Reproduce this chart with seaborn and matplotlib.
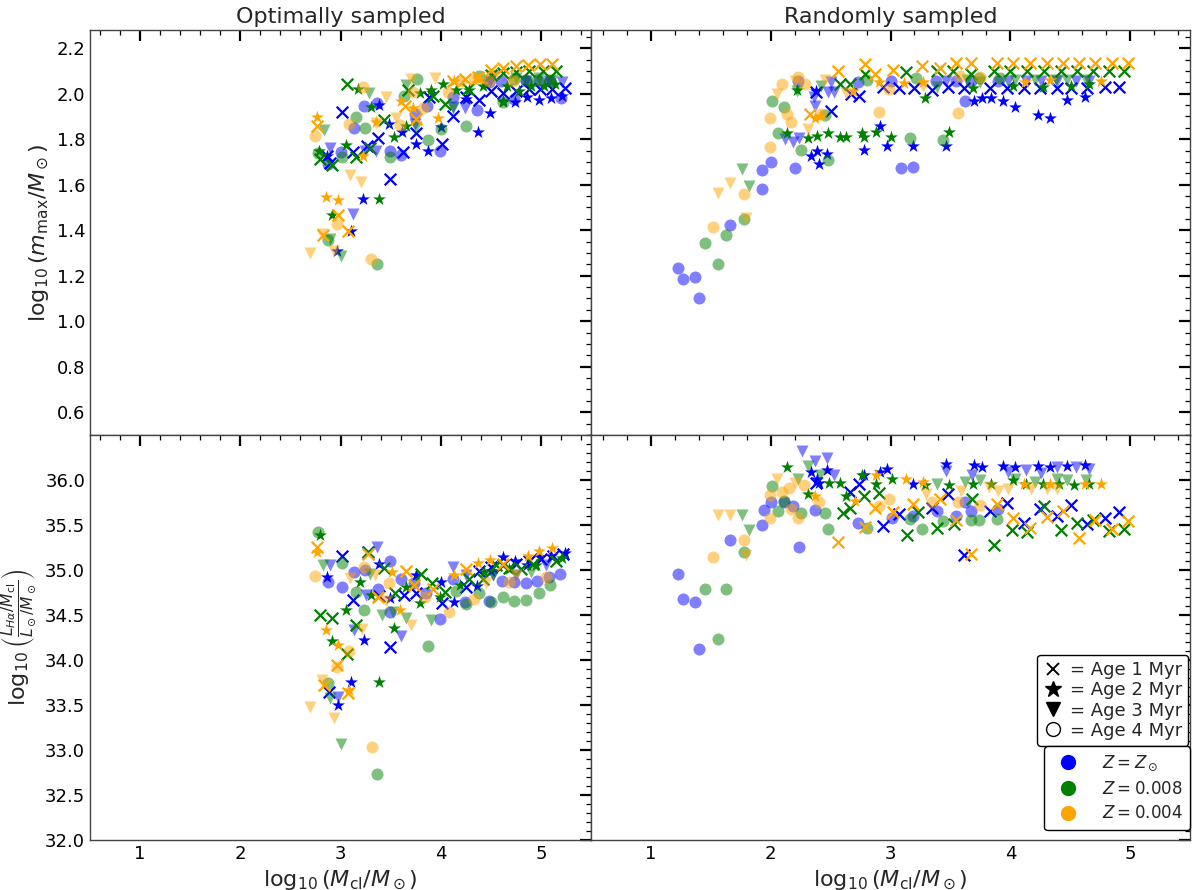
import matplotlib
matplotlib.use("Agg")
import numpy as np
import pandas as pd
import matplotlib.pyplot as plt
from matplotlib.lines import Line2D
from matplotlib.ticker import AutoMinorLocator
import seaborn as sns

# points as (age [Myr], log10 Mcl, value)
# --- optimally sampled, log10 m_max ---
opt_mmax_sun = [
    (1, 3.01, 1.921), (1, 2.87, 1.727), (1, 2.90, 1.697), (1, 3.12, 1.742), (1, 3.26, 1.768),
    (1, 3.37, 1.805), (1, 3.49, 1.627), (1, 3.62, 1.742), (1, 3.75, 1.826), (1, 3.88, 1.985),
    (1, 4.01, 1.779), (1, 4.12, 1.904), (1, 4.25, 1.985), (1, 4.38, 1.973), (1, 4.50, 2.014),
    (1, 4.62, 2.003), (1, 4.75, 2.014), (1, 4.88, 2.022), (1, 4.99, 2.019), (1, 5.11, 2.022),
    (1, 5.24, 2.026),
    (2, 2.87, 1.727), (2, 3.10, 1.395), (2, 2.96, 1.310), (2, 3.22, 1.538), (2, 3.38, 1.952),
    (2, 3.48, 1.867), (2, 3.61, 1.830), (2, 3.75, 1.779), (2, 3.87, 1.749), (2, 4.00, 1.852),
    (2, 4.25, 1.977), (2, 4.37, 1.833), (2, 4.49, 1.914), (2, 4.62, 1.966), (2, 4.74, 1.963),
    (2, 4.86, 1.985), (2, 4.98, 1.973), (2, 5.10, 1.980), (2, 5.21, 1.992),
    (3, 2.90, 1.761), (3, 3.12, 1.472), (3, 3.24, 1.749), (3, 3.35, 1.746), (3, 3.74, 1.867),
    (3, 4.12, 1.940), (3, 4.24, 1.938), (3, 4.49, 2.058), (3, 4.85, 2.058), (3, 5.08, 2.055),
    (3, 5.21, 2.051),
    (4, 2.88, 1.693), (4, 3.00, 1.742), (4, 3.13, 1.850), (4, 3.23, 1.945), (4, 3.36, 1.958),
    (4, 3.49, 1.746), (4, 3.60, 1.731), (4, 3.74, 1.911), (4, 3.86, 1.944), (4, 3.99, 1.746),
    (4, 4.12, 1.985), (4, 4.36, 1.930), (4, 4.48, 2.051), (4, 4.60, 2.058), (4, 4.73, 1.977),
    (4, 4.85, 2.056), (4, 4.98, 2.056), (4, 5.09, 2.056), (4, 5.20, 1.980),
]
opt_mmax_008 = [
    (1, 2.80, 1.712), (1, 2.92, 1.686), (1, 3.06, 2.044), (1, 3.15, 1.720), (1, 3.29, 1.761),
    (1, 3.43, 1.885), (1, 3.67, 2.017), (1, 3.92, 1.992), (1, 4.04, 1.955), (1, 4.27, 2.020),
    (1, 4.50, 2.080), (1, 4.62, 2.090), (1, 4.75, 2.095), (1, 4.88, 2.100), (1, 5.02, 2.100),
    (1, 5.15, 2.100),
    (2, 2.79, 1.749), (2, 2.92, 1.465), (2, 3.05, 1.776), (2, 3.17, 2.022), (2, 3.30, 1.943),
    (2, 3.38, 1.535), (2, 3.53, 1.808), (2, 3.65, 1.860), (2, 3.79, 2.004), (2, 3.90, 2.017),
    (2, 4.02, 2.041), (2, 4.15, 2.017), (2, 4.28, 2.017), (2, 4.42, 2.036), (2, 4.62, 1.965),
    (2, 4.66, 2.036), (2, 4.78, 2.014), (2, 4.90, 2.036), (2, 5.03, 2.036), (2, 5.14, 2.041),
    (3, 2.84, 1.842), (3, 2.90, 1.362), (3, 3.00, 1.288), (3, 3.28, 2.003), (3, 3.65, 2.040),
    (3, 3.75, 1.852), (3, 4.12, 1.936), (3, 4.52, 2.076), (3, 4.75, 2.069), (3, 4.98, 2.069),
    (3, 5.11, 2.061),
    (4, 2.78, 1.739), (4, 2.88, 1.356), (4, 3.01, 1.720), (4, 3.15, 1.896), (4, 3.24, 1.849),
    (4, 3.36, 1.253), (4, 3.49, 1.720), (4, 3.63, 1.992), (4, 3.76, 2.066), (4, 3.87, 1.796),
    (4, 4.00, 1.845), (4, 4.25, 1.857), (4, 4.38, 2.076), (4, 4.62, 1.963), (4, 4.73, 2.066),
    (4, 4.85, 2.061), (4, 4.96, 2.061), (4, 5.08, 2.058),
]
opt_mmax_004 = [
    (1, 2.77, 1.857), (1, 2.97, 1.466), (1, 2.83, 1.381), (1, 3.07, 1.396), (1, 3.64, 1.944),
    (1, 3.75, 1.890), (1, 4.12, 2.054), (1, 4.24, 2.066), (1, 4.37, 2.073), (1, 4.50, 2.106),
    (1, 4.62, 2.114), (1, 4.75, 2.122), (1, 4.87, 2.128), (1, 4.99, 2.131), (1, 5.11, 2.132),
    (2, 2.77, 1.899), (2, 2.86, 1.546), (2, 2.97, 1.531), (2, 3.22, 1.727), (2, 3.35, 1.874),
    (2, 3.60, 1.966), (2, 3.72, 1.938), (2, 3.97, 1.894), (2, 4.13, 2.058), (2, 4.37, 2.066),
    (3, 2.70, 1.298), (3, 2.82, 1.384), (3, 2.94, 1.307), (3, 3.09, 1.643), (3, 3.20, 1.612),
    (3, 3.35, 1.870), (3, 3.45, 1.985), (3, 3.55, 1.894), (3, 3.70, 2.066), (3, 3.94, 2.069),
    (4, 2.75, 1.815), (4, 2.96, 1.428), (4, 3.08, 1.867), (4, 3.22, 2.029), (4, 3.30, 1.275),
    (4, 3.59, 1.864), (4, 3.72, 2.007), (4, 3.82, 1.938), (4, 4.07, 2.007), (4, 4.20, 2.058),
    (4, 4.33, 2.066), (4, 4.48, 2.058), (4, 4.72, 2.058),
]

# --- randomly sampled, log10 m_max ---
rand_mmax_sun = [
    (1, 2.38, 2.007), (1, 2.50, 1.926), (1, 2.67, 2.000), (1, 2.74, 1.990), (1, 2.94, 2.030),
    (1, 3.07, 2.025), (1, 3.20, 2.025), (1, 3.35, 2.018), (1, 3.48, 2.030), (1, 3.61, 2.025),
    (1, 3.83, 2.026), (1, 3.97, 2.026), (1, 4.11, 2.026), (1, 4.25, 2.026), (1, 4.39, 2.026),
    (1, 4.51, 2.026), (1, 4.64, 2.026), (1, 4.79, 2.030), (1, 4.91, 2.030),
    (2, 2.34, 1.727), (2, 2.39, 1.749), (2, 2.40, 1.693), (2, 2.47, 1.737), (2, 2.38, 2.010),
    (2, 2.78, 1.752), (2, 2.91, 1.857), (2, 2.97, 1.768), (2, 3.19, 1.768), (2, 3.46, 1.768),
    (2, 3.70, 1.966), (2, 3.76, 1.982), (2, 3.84, 1.982), (2, 3.94, 1.967), (2, 4.04, 1.941),
    (2, 4.23, 1.907), (2, 4.33, 1.892), (2, 4.47, 1.974), (2, 4.62, 1.985),
    (3, 2.12, 1.800), (3, 2.19, 1.786), (3, 2.24, 1.805), (3, 2.37, 1.948), (3, 2.36, 1.985),
    (3, 2.50, 2.051), (3, 2.48, 2.007), (3, 2.53, 2.007), (3, 3.46, 2.054), (3, 3.98, 2.054),
    (3, 4.13, 2.054), (3, 4.26, 2.054), (3, 4.39, 2.054), (3, 4.55, 2.054), (3, 4.66, 2.054),
    (4, 1.23, 1.236), (4, 1.27, 1.186), (4, 1.37, 1.196), (4, 1.40, 1.101), (4, 1.66, 1.425),
    (4, 1.93, 1.583), (4, 1.93, 1.664), (4, 2.00, 1.698), (4, 2.20, 1.673), (4, 2.23, 2.054),
    (4, 2.73, 2.051), (4, 3.00, 2.054), (4, 3.09, 1.673), (4, 3.19, 1.676), (4, 3.38, 2.054),
    (4, 3.55, 2.054), (4, 3.62, 1.970), (4, 3.67, 2.054), (4, 3.90, 2.054),
]
rand_mmax_008 = [
    (1, 2.58, 2.044), (1, 2.66, 2.044), (1, 2.79, 2.088), (1, 3.13, 2.095), (1, 3.39, 2.098),
    (1, 3.52, 2.098), (1, 3.67, 2.088), (1, 3.86, 2.098), (1, 4.00, 2.098), (1, 4.14, 2.098),
    (1, 4.28, 2.098), (1, 4.42, 2.098), (1, 4.56, 2.098), (1, 4.69, 2.098), (1, 4.82, 2.098),
    (1, 4.95, 2.098),
    (2, 2.14, 1.827), (2, 2.31, 1.805), (2, 2.39, 1.815), (2, 2.48, 1.827), (2, 2.58, 1.808),
    (2, 2.63, 1.808), (2, 2.76, 1.826), (2, 2.78, 1.811), (2, 2.88, 1.833), (2, 3.00, 1.811),
    (2, 3.29, 1.980), (2, 3.49, 1.833), (2, 3.69, 2.025), (2, 4.02, 2.032), (2, 4.27, 2.030),
    (2, 4.51, 2.036), (2, 4.66, 2.044), (2, 2.22, 2.017),
    (3, 1.76, 1.668), (3, 1.82, 1.594), (3, 2.22, 2.014), (3, 2.42, 2.036), (3, 3.39, 2.030),
    (3, 3.64, 2.061), (3, 3.75, 2.051), (3, 4.04, 2.061), (3, 4.21, 2.061), (3, 4.38, 2.061),
    (3, 4.47, 2.061), (3, 4.63, 2.061),
    (4, 1.45, 1.344), (4, 1.56, 1.251), (4, 1.63, 1.380), (4, 1.78, 1.450), (4, 2.01, 1.966),
    (4, 2.11, 1.941), (4, 2.06, 1.827), (4, 2.25, 1.752), (4, 2.45, 1.908), (4, 2.48, 1.708),
    (4, 2.80, 2.061), (4, 3.16, 1.805), (4, 3.21, 2.069), (4, 3.44, 1.798), (4, 3.74, 2.069),
    (4, 3.91, 2.069),
]
rand_mmax_004 = [
    (1, 2.33, 1.911), (1, 2.56, 2.100), (1, 2.79, 2.132), (1, 2.87, 2.088), (1, 3.02, 2.105),
    (1, 3.26, 2.120), (1, 3.41, 2.113), (1, 3.55, 2.135), (1, 3.67, 2.135), (1, 3.89, 2.135),
    (1, 4.02, 2.135), (1, 4.16, 2.135), (1, 4.31, 2.135), (1, 4.44, 2.135), (1, 4.57, 2.135),
    (1, 4.71, 2.135), (1, 4.85, 2.135), (1, 4.98, 2.135),
    (2, 2.37, 1.892), (2, 2.41, 1.904), (2, 2.69, 2.010), (2, 2.90, 2.051), (2, 3.11, 2.047),
    (2, 3.27, 2.051), (2, 4.12, 2.051), (2, 4.33, 2.061), (2, 4.76, 2.058),
    (3, 1.56, 1.562), (3, 1.66, 1.609), (3, 1.79, 1.452), (3, 2.05, 2.000), (3, 2.31, 1.845),
    (3, 2.20, 2.058), (3, 2.45, 2.061), (3, 2.63, 2.002), (3, 3.27, 2.036),
    (4, 1.52, 1.413), (4, 1.78, 1.560), (4, 1.99, 1.767), (4, 1.99, 1.894), (4, 2.09, 2.041),
    (4, 2.14, 1.911), (4, 2.17, 1.877), (4, 2.23, 2.073), (4, 2.29, 2.044), (4, 2.42, 1.911),
    (4, 2.90, 1.921), (4, 2.99, 2.022), (4, 3.56, 1.914), (4, 3.58, 2.076), (4, 3.75, 2.073),
]

# --- optimally sampled, log10 (L_Halpha / M_cl) ---
opt_lha_sun = [
    (1, 3.01, 35.16), (1, 2.89, 33.64), (1, 3.12, 34.67), (1, 3.27, 35.20), (1, 3.38, 34.71),
    (1, 3.49, 34.14), (1, 3.63, 34.72), (1, 3.75, 34.74), (1, 4.01, 34.63), (1, 4.25, 34.81),
    (1, 4.38, 34.99), (1, 4.50, 35.03), (1, 4.62, 35.05), (1, 4.75, 35.07), (1, 4.88, 35.10),
    (1, 5.00, 35.12), (1, 5.12, 35.15), (1, 5.22, 35.18),
    (2, 2.87, 34.92), (2, 2.97, 33.50), (2, 3.10, 33.76), (2, 3.23, 34.22), (2, 3.38, 35.07),
    (2, 3.49, 34.69), (2, 3.75, 34.94), (2, 4.00, 34.87), (2, 4.13, 34.64), (2, 4.36, 34.82),
    (2, 4.50, 34.99), (2, 4.62, 35.14), (2, 4.74, 35.10), (2, 4.86, 35.06), (2, 4.99, 35.14),
    (2, 5.10, 35.15), (2, 5.24, 35.19),
    (3, 2.90, 35.06), (3, 2.97, 33.59), (3, 3.13, 34.33), (3, 3.25, 34.72), (3, 3.36, 35.25),
    (3, 3.60, 34.27), (3, 4.12, 35.03), (3, 4.25, 34.94), (3, 4.52, 34.94), (3, 4.75, 34.94),
    (3, 5.05, 35.05),
    (4, 2.88, 34.87), (4, 3.01, 34.81), (4, 3.13, 34.98), (4, 3.24, 35.00), (4, 3.37, 34.79),
    (4, 3.49, 35.10), (4, 3.49, 34.53), (4, 3.60, 34.90), (4, 3.73, 34.86), (4, 3.85, 34.74),
    (4, 3.99, 34.45), (4, 4.12, 34.90), (4, 4.24, 34.64), (4, 4.48, 34.66), (4, 4.61, 34.88),
    (4, 4.73, 34.87), (4, 4.85, 34.85), (4, 4.96, 34.88), (4, 5.08, 34.92), (4, 5.19, 34.95),
]
opt_lha_008 = [
    (1, 2.80, 34.50), (1, 2.92, 34.47), (1, 3.06, 34.07), (1, 3.15, 34.39), (1, 3.27, 35.20),
    (1, 3.43, 35.02), (1, 3.54, 34.74), (1, 3.80, 34.95), (1, 3.91, 34.85), (1, 4.04, 34.76),
    (1, 4.28, 34.90), (1, 4.42, 34.90), (1, 4.55, 35.05), (1, 4.68, 35.02), (1, 4.80, 35.01),
    (1, 4.92, 35.07), (1, 5.15, 35.10),
    (2, 2.80, 35.39), (2, 2.92, 34.21), (2, 3.05, 34.56), (2, 3.19, 34.87), (2, 3.30, 34.72),
    (2, 3.38, 33.75), (2, 3.53, 34.36), (2, 3.65, 34.81), (2, 3.79, 34.63), (2, 3.99, 34.70),
    (2, 4.19, 34.83), (2, 4.43, 34.98), (2, 4.68, 35.01), (2, 4.95, 35.05), (2, 5.21, 35.13),
    (3, 2.83, 35.05), (3, 2.90, 33.58), (3, 3.00, 33.07), (3, 3.29, 34.96), (3, 3.41, 34.50),
    (3, 3.52, 34.53), (3, 3.65, 34.47), (3, 3.90, 34.44), (3, 4.52, 34.94), (3, 4.90, 34.98),
    (4, 2.78, 35.42), (4, 2.88, 33.74), (4, 3.01, 35.08), (4, 3.15, 34.76), (4, 3.23, 34.55),
    (4, 3.36, 32.73), (4, 3.87, 34.15), (4, 4.15, 34.77), (4, 4.25, 34.62), (4, 4.38, 34.74),
    (4, 4.50, 34.64), (4, 4.62, 34.70), (4, 4.73, 34.66), (4, 4.85, 34.67), (4, 4.98, 34.74),
    (4, 5.09, 34.83),
]
opt_lha_004 = [
    (1, 2.77, 35.25), (1, 2.96, 33.94), (1, 2.84, 33.72), (1, 3.07, 33.63), (1, 3.27, 35.18),
    (1, 3.37, 34.70), (1, 3.65, 34.99), (1, 3.73, 34.83), (1, 3.92, 34.79), (1, 4.25, 35.01),
    (1, 4.62, 35.07),
    (2, 2.77, 35.20), (2, 2.86, 34.33), (2, 2.97, 34.17), (2, 3.08, 33.67), (2, 3.51, 34.98),
    (2, 3.59, 34.55), (2, 4.13, 34.94), (2, 4.37, 35.08), (2, 4.49, 35.11), (2, 4.87, 35.16),
    (2, 4.98, 35.21), (2, 5.11, 35.24),
    (3, 2.70, 33.48), (3, 2.82, 33.78), (3, 2.94, 33.36), (3, 3.09, 34.91), (3, 3.21, 34.34),
    (3, 3.34, 34.94), (3, 3.45, 34.66), (3, 3.70, 34.39), (3, 4.45, 34.85), (3, 4.75, 34.94),
    (4, 2.75, 34.93), (4, 2.96, 33.92), (4, 3.08, 34.10), (4, 3.23, 35.03), (4, 3.31, 33.03),
    (4, 3.48, 34.85), (4, 3.84, 34.70), (4, 4.08, 34.53), (4, 4.33, 34.68), (4, 4.68, 34.87),
    (4, 5.05, 34.92),
]

# --- randomly sampled, log10 (L_Halpha / M_cl) ---
rand_lha_sun = [
    (1, 2.38, 35.97), (1, 2.66, 35.87), (1, 2.74, 35.96), (1, 2.94, 35.49), (1, 3.07, 35.62),
    (1, 3.35, 35.69), (1, 3.48, 35.84), (1, 3.61, 35.17), (1, 3.83, 35.66), (1, 3.97, 35.74),
    (1, 4.11, 35.52), (1, 4.25, 35.68), (1, 4.39, 35.60), (1, 4.51, 35.72), (1, 4.64, 35.51),
    (1, 4.79, 35.58), (1, 4.91, 35.64),
    (2, 2.34, 36.09), (2, 2.39, 36.01), (2, 2.40, 35.97), (2, 2.47, 36.11), (2, 2.78, 36.05),
    (2, 2.91, 36.09), (2, 2.97, 36.12), (2, 3.19, 35.95), (2, 3.46, 36.18), (2, 3.70, 36.17),
    (2, 3.76, 36.14), (2, 3.94, 36.15), (2, 4.04, 36.14), (2, 4.23, 36.16), (2, 4.33, 36.14),
    (2, 4.47, 36.16), (2, 4.62, 36.17),
    (3, 2.26, 36.32), (3, 2.37, 36.21), (3, 2.47, 36.24), (3, 2.53, 36.05), (3, 3.46, 36.10),
    (3, 3.68, 36.06), (3, 3.98, 36.09), (3, 4.13, 36.11), (3, 4.26, 36.08), (3, 4.39, 36.14),
    (3, 4.55, 36.14), (3, 4.66, 36.12),
    (4, 1.23, 34.96), (4, 1.27, 34.68), (4, 1.37, 34.64), (4, 1.40, 34.12), (4, 1.66, 35.33),
    (4, 1.94, 35.67), (4, 1.93, 35.50), (4, 2.00, 35.75), (4, 2.11, 35.76), (4, 2.19, 35.71),
    (4, 2.24, 35.26), (4, 2.37, 35.67), (4, 2.73, 35.52), (4, 3.01, 35.58), (4, 3.19, 35.60),
    (4, 3.39, 35.65), (4, 3.55, 35.60), (4, 3.62, 35.75), (4, 3.67, 35.66), (4, 3.90, 35.68),
]
rand_lha_008 = [
    (1, 2.60, 35.63), (1, 2.66, 35.69), (1, 2.78, 35.82), (1, 2.90, 35.86), (1, 3.14, 35.39),
    (1, 3.23, 35.64), (1, 3.39, 35.47), (1, 3.53, 35.51), (1, 3.68, 35.79), (1, 3.86, 35.28),
    (1, 4.01, 35.44), (1, 4.14, 35.42), (1, 4.28, 35.71), (1, 4.42, 35.44), (1, 4.56, 35.52),
    (1, 4.69, 35.55), (1, 4.82, 35.43), (1, 4.95, 35.45),
    (2, 2.14, 36.14), (2, 2.31, 35.84), (2, 2.49, 35.97), (2, 2.58, 35.97), (2, 2.63, 35.82),
    (2, 2.76, 36.05), (2, 2.88, 35.95), (2, 3.01, 36.01), (2, 3.29, 35.94), (2, 3.49, 35.94),
    (2, 3.69, 35.95), (2, 3.84, 35.96), (2, 4.02, 36.00), (2, 4.13, 35.96), (2, 4.27, 35.96),
    (2, 4.41, 35.96), (2, 4.53, 35.94), (2, 4.66, 35.95),
    (3, 1.76, 35.61), (3, 1.82, 35.44), (3, 2.23, 36.01), (3, 2.31, 36.15), (3, 2.41, 36.05),
    (3, 3.39, 35.96), (3, 3.62, 35.98), (3, 3.75, 36.00), (3, 4.04, 36.01), (3, 4.21, 35.98),
    (3, 4.39, 36.01), (3, 4.47, 36.00), (3, 4.63, 36.00),
    (4, 1.45, 34.79), (4, 1.56, 34.23), (4, 1.63, 34.79), (4, 1.78, 35.20), (4, 2.01, 35.93),
    (4, 2.06, 35.66), (4, 2.11, 35.77), (4, 2.25, 35.63), (4, 2.45, 35.63), (4, 2.48, 35.46),
    (4, 2.80, 35.47), (4, 3.16, 35.57), (4, 3.26, 35.45), (4, 3.44, 35.54), (4, 3.67, 35.55),
    (4, 3.74, 35.55), (4, 3.89, 35.57),
]
rand_lha_004 = [
    (1, 2.56, 35.31), (1, 2.79, 35.48), (1, 2.87, 35.69), (1, 3.02, 35.64), (1, 3.19, 35.73),
    (1, 3.41, 35.79), (1, 3.55, 35.55), (1, 3.67, 35.18), (1, 3.89, 35.73), (1, 4.02, 35.58),
    (1, 4.16, 35.47), (1, 4.31, 35.59), (1, 4.44, 35.66), (1, 4.57, 35.36), (1, 4.71, 35.55),
    (1, 4.85, 35.46), (1, 4.98, 35.54),
    (2, 2.37, 35.82), (2, 2.70, 35.77), (2, 2.88, 36.06), (2, 3.13, 36.01), (2, 3.27, 35.98),
    (2, 4.11, 35.95), (2, 4.33, 35.95), (2, 4.62, 35.95), (2, 4.76, 35.95),
    (3, 1.56, 35.61), (3, 1.66, 35.61), (3, 1.79, 35.17), (3, 2.05, 36.01), (3, 2.20, 35.97),
    (3, 3.30, 35.84), (3, 3.59, 35.88), (3, 3.82, 35.92), (3, 3.90, 35.88), (3, 3.98, 35.90),
    (3, 4.17, 35.90), (3, 4.31, 35.90), (3, 4.39, 35.90),
    (4, 1.52, 35.14), (4, 1.78, 35.33), (4, 1.99, 35.83), (4, 1.99, 35.58), (4, 2.09, 35.87),
    (4, 2.15, 35.91), (4, 2.17, 35.68), (4, 2.23, 35.58), (4, 2.28, 35.94), (4, 2.40, 35.75),
    (4, 2.90, 35.71), (4, 2.99, 35.79), (4, 3.35, 35.75), (4, 3.56, 35.75), (4, 3.75, 35.72),
]

metallicities = ["sun", "0.008", "0.004"]
z_colors = {"sun": "blue", "0.008": "green", "0.004": "orange"}
z_labels = [r"$Z = Z_\odot$", r"$Z = 0.008$", r"$Z = 0.004$"]
ages = [1, 2, 3, 4]
age_labels = ["= Age 1 Myr", "= Age 2 Myr", "= Age 3 Myr", "= Age 4 Myr"]

panels = {
    (0, 0): [opt_mmax_sun, opt_mmax_008, opt_mmax_004],
    (0, 1): [rand_mmax_sun, rand_mmax_008, rand_mmax_004],
    (1, 0): [opt_lha_sun, opt_lha_008, opt_lha_004],
    (1, 1): [rand_lha_sun, rand_lha_008, rand_lha_004],
}

rows = []
for key, series in panels.items():
    for z, pts in zip(metallicities, series):
        for age, x, y in pts:
            rows.append({"row": key[0], "col": key[1], "Z": z, "age": age, "x": x, "y": y})
df = pd.DataFrame(rows)

sns.set_style("white")
plt.rcParams["font.family"] = ["DejaVu Sans"]
plt.rcParams["mathtext.fontset"] = "dejavusans"

fig = plt.figure(figsize=(12, 8.9), dpi=100)
gs = fig.add_gridspec(2, 2, width_ratios=[501, 599], left=0.075, right=0.9917,
                      top=0.9663, bottom=0.0562, wspace=0, hspace=0)
axes = np.empty((2, 2), dtype=object)
axes[0, 0] = fig.add_subplot(gs[0, 0])
axes[0, 1] = fig.add_subplot(gs[0, 1], sharey=axes[0, 0])
axes[1, 0] = fig.add_subplot(gs[1, 0])
axes[1, 1] = fig.add_subplot(gs[1, 1], sharey=axes[1, 0])

markers = {1: "x", 2: "*", 3: "v", 4: "o"}
sizes = {1: 70, 2: 95, 3: 75, 4: 75}
alphas = {1: 1.0, 2: 1.0, 3: 0.5, 4: 0.5}

for (r, c), ax in np.ndenumerate(axes):
    sub = df[(df["row"] == r) & (df["col"] == c)]
    for z in metallicities:
        for age in ages:
            d = sub[(sub["Z"] == z) & (sub["age"] == age)]
            kws = dict(marker=markers[age], s=sizes[age], alpha=alphas[age], color=z_colors[z])
            kws["linewidth"] = 1.6 if age == 1 else 0
            sns.scatterplot(data=d, x="x", y="y", ax=ax, legend=False, **kws)
    ax.set_xlim(0.5, 5.5)
    ax.set_xticks([1, 2, 3, 4, 5])
    ax.xaxis.set_minor_locator(AutoMinorLocator())
    ax.yaxis.set_minor_locator(AutoMinorLocator())
    ax.tick_params(which="both", direction="in", top=True, right=True, colors="black")
    ax.tick_params(which="major", length=8, width=1.6, labelsize=13)
    ax.tick_params(which="minor", length=3.5, width=0.9)
    for sp in ax.spines.values():
        sp.set_color("#444444")
        sp.set_linewidth(1.0)
    ax.set_xlabel("")
    ax.set_ylabel("")

axes[0, 0].set_ylim(0.5, 2.28)
axes[0, 0].set_yticks(np.round(np.arange(0.6, 2.21, 0.2), 1))
axes[1, 0].set_ylim(32.0, 36.5)
axes[1, 0].set_yticks(np.arange(32.0, 36.01, 0.5))
for ax in axes[:, 1]:
    ax.tick_params(labelleft=False)
for ax in axes[0, :]:
    ax.tick_params(labelbottom=False)

axes[0, 0].set_title("Optimally sampled", fontsize=16, pad=5)
axes[0, 1].set_title("Randomly sampled", fontsize=16, pad=5)
axes[0, 0].set_ylabel(r"$\log_{10}(m_{\rm max}/M_\odot)$", fontsize=16)
axes[1, 0].set_ylabel(r"$\log_{10}\left(\frac{L_{H\alpha}/M_{\rm cl}}{L_\odot/M_\odot}\right)$",
                      fontsize=16)
for ax in axes[1, :]:
    ax.set_xlabel(r"$\log_{10}(M_{\rm cl}/M_\odot)$", fontsize=16)

# legends
age_handles = [
    Line2D([], [], marker="x", color="black", linestyle="none", markersize=9, markeredgewidth=1.4),
    Line2D([], [], marker="*", color="black", linestyle="none", markersize=12),
    Line2D([], [], marker="v", color="black", linestyle="none", markersize=10),
    Line2D([], [], marker="o", markerfacecolor="white", markeredgecolor="black",
           linestyle="none", markersize=10),
]
ax = axes[1, 1]
leg1 = ax.legend(age_handles, age_labels, loc="lower right", bbox_to_anchor=(0.997, 0.232),
                 fontsize=13, handlelength=1.0, handletextpad=0.45, borderpad=0.35,
                 labelspacing=0.12, borderaxespad=0.0, frameon=True, fancybox=True,
                 edgecolor="black", framealpha=1)
ax.add_artist(leg1)
z_handles = [Line2D([], [], marker="o", color=z_colors[z], linestyle="none", markersize=10)
             for z in metallicities]
leg2 = ax.legend(z_handles, z_labels, loc="lower right", bbox_to_anchor=(1.0, 0.025),
                 fontsize=12, handlelength=2.0, handletextpad=1.0, borderpad=0.45,
                 labelspacing=0.4, borderaxespad=0.0, frameon=True, fancybox=True,
                 edgecolor="black", framealpha=1)

fig.savefig("out.png", dpi=100)
